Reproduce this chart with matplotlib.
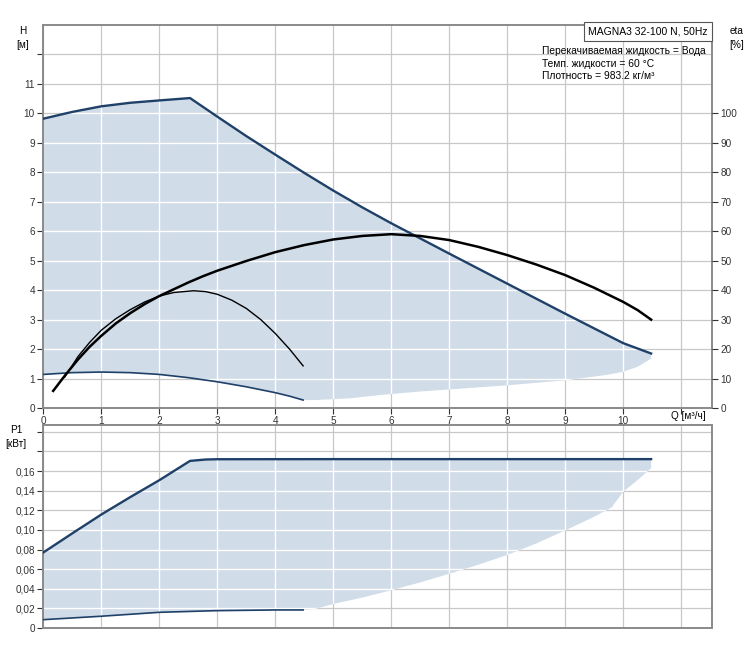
import numpy as np
import matplotlib
matplotlib.use('Agg')
import matplotlib.pyplot as plt

plt.rcParams['font.family'] = ['Liberation Sans', 'DejaVu Sans']
plt.rcParams['font.size'] = 7

# pump curve, max speed (H in m)
q_hmax = [0, 0.5, 1, 1.5, 2, 2.53, 3, 3.5, 4, 4.5, 5, 5.5, 6, 7, 8, 9, 10, 10.48]
h_max = [9.82, 10.05, 10.24, 10.36, 10.44, 10.52, 9.89, 9.23, 8.6, 7.98, 7.38, 6.81, 6.27,
         5.24, 4.22, 3.2, 2.2, 1.85]
# min curve
q_hmin = [0, 0.5, 1, 1.5, 2, 2.5, 3, 3.5, 4, 4.25, 4.48]
h_min = [1.14, 1.2, 1.22, 1.2, 1.14, 1.03, 0.89, 0.72, 0.52, 0.4, 0.27]
# lower edge of operating range
q_hlow = [4.48, 4.7, 5.3, 5.8, 6.5, 7, 8, 9, 9.7, 10, 10.25, 10.48]
h_low = [0.27, 0.27, 0.33, 0.44, 0.56, 0.63, 0.77, 0.94, 1.12, 1.23, 1.4, 1.68]

# efficiency curves (%)
q_eta1 = [0.17, 0.38, 0.6, 0.8, 1, 1.25, 1.5, 1.75, 2, 2.25, 2.5, 2.75, 3, 3.5, 4, 4.5, 5,
          5.5, 6, 6.5, 7, 7.5, 8, 8.5, 9, 9.5, 10, 10.25, 10.48]
eta1 = [5.8, 11.2, 16.5, 20.8, 24.5, 28.7, 32.2, 35.3, 38.0, 40.3, 42.6, 44.7, 46.6, 49.9,
        52.9, 55.3, 57.2, 58.4, 59.0, 58.4, 57.0, 54.7, 51.9, 48.7, 45.1, 40.8, 36.0, 33.2, 30.0]
q_eta2 = [0.37, 0.6, 0.8, 1, 1.25, 1.5, 1.75, 2, 2.25, 2.59, 2.8, 3, 3.25, 3.5, 3.75, 4,
          4.25, 4.48]
eta2 = [10.5, 17.5, 22.3, 26.4, 30.3, 33.4, 36.0, 38.0, 39.2, 39.8, 39.5, 38.6, 36.6, 33.8,
        30.0, 25.3, 19.9, 14.3]

# power P1 (kW)
q_pmax = [0, 0.5, 1, 1.5, 2, 2.53, 2.8, 3, 5, 8, 10.48]
p_max = [0.077, 0.0965, 0.1157, 0.1335, 0.1507, 0.1704, 0.1718, 0.1721, 0.1722, 0.1722, 0.1722]
q_pmin = [0, 1, 2, 3, 4, 4.48]
p_min = [0.0085, 0.012, 0.016, 0.0177, 0.0184, 0.0184]
q_plow = [4.48, 4.71, 5, 5.5, 6, 6.5, 7, 7.5, 8, 8.5, 9, 9.5, 9.8, 10, 10.25, 10.48]
p_low = [0.0184, 0.0198, 0.0245, 0.031, 0.0385, 0.0465, 0.0553, 0.0645, 0.0745, 0.0862,
         0.0995, 0.1135, 0.123, 0.139, 0.151, 0.163]

fill_c = '#d0dce8'
navy = '#1f4068'
grid_c = '#c8c8c8'
spine_c = '#8a8a8a'

fig = plt.figure(figsize=(7.51, 6.58), dpi=100)
ax = fig.add_axes([43.3/751, 1-408/658, 668.7/751, 383/658])
axp = fig.add_axes([43.3/751, 1-628/658, 668.7/751, 203/658])


def style(a):
    a.set_axisbelow(True)
    a.grid(True, color=grid_c, lw=0.9)
    for s in a.spines.values():
        s.set_color(spine_c)
        s.set_linewidth(1.4)
    a.tick_params(colors='#333333', length=4, width=0.8, pad=2, labelsize=7.2)


def white_grid(a, poly, xs, ys):
    for v in xs:
        ln = a.axvline(v, color='white', lw=1.0, zorder=1.5)
        ln.set_clip_path(poly)
    for v in ys:
        ln = a.axhline(v, color='white', lw=1.0, zorder=1.5)
        ln.set_clip_path(poly)


# ---- top: H / eta
style(ax)
ax.set_xlim(0, 11.53)
ax.set_ylim(0, 13)
ax.set_xticks(range(12))
ax.set_xticklabels([str(i) for i in range(11)] + [''])
ax.set_yticks(range(13))
ax.set_yticklabels([str(i) for i in range(12)] + [''])

xs = q_hmax + q_hlow[::-1] + q_hmin[::-1]
ys = h_max + h_low[::-1] + h_min[::-1]
poly = ax.fill(xs, ys, color=fill_c, lw=0, zorder=1)[0]
white_grid(ax, poly, range(1, 12), range(1, 13))
ax.plot(q_hmax, h_max, color=navy, lw=1.7, zorder=3)
ax.plot(q_hmin, h_min, color=navy, lw=1.2, zorder=3)

ax2 = ax.twinx()
ax2.set_ylim(0, 130)
ax2.set_yticks(range(0, 101, 10))
for s in ax2.spines.values():
    s.set_visible(False)
ax2.tick_params(colors='#333333', length=4, width=0.8, pad=2, labelsize=7.2)
ax2.plot(q_eta1, eta1, color='black', lw=1.8)
ax2.plot(q_eta2, eta2, color='black', lw=1.0)

ax.text(0.994, 0.996, 'MAGNA3 32-100 N, 50Hz', transform=ax.transAxes, ha='right', va='top',
        fontsize=7.5, bbox=dict(boxstyle='square,pad=0.4', fc='white', ec='#555555', lw=0.8), zorder=5)
info = ['Перекачиваемая жидкость = Вода', 'Темп. жидкости = 60 °C', 'Плотность = 983.2 кг/м³']
for i, t in enumerate(info):
    ax.text(0.746, (408 - (51 + 12.6*i))/383, t, transform=ax.transAxes, ha='left', va='center', fontsize=7.4)

# ---- bottom: P1
style(axp)
axp.set_xlim(0, 11.53)
axp.set_ylim(0, 0.207)
axp.set_xticks(range(12))
axp.tick_params(axis='x', length=0, labelbottom=False)
pt = np.arange(0, 0.201, 0.02)
axp.set_yticks(pt)
axp.set_yticklabels(['0'] + [('%.2f' % v).replace('.', ',') for v in pt[1:9]] + ['', ''])

xs = q_pmax + q_plow[::-1] + q_pmin[::-1]
ys = p_max + p_low[::-1] + p_min[::-1]
polyp = axp.fill(xs, ys, color=fill_c, lw=0, zorder=1)[0]
white_grid(axp, polyp, range(1, 12), pt[1:])
axp.plot(q_pmax, p_max, color=navy, lw=1.7, zorder=3)
axp.plot(q_pmin, p_min, color=navy, lw=1.2, zorder=3)

fig.text(23/751, 1-38/658, 'H\n[м]', ha='center', va='center', fontsize=7.2, linespacing=1.5)
fig.text(737/751, 1-38/658, 'eta\n[%]', ha='center', va='center', fontsize=7.2, linespacing=1.5)
fig.text(16/751, 1-437/658, 'P1\n[кВт]', ha='center', va='center', fontsize=7.2, linespacing=1.5)
fig.text(688/751, 1-416/658, 'Q [м³/ч]', ha='center', va='center', fontsize=7.2)

fig.savefig('out.png', dpi=100)
